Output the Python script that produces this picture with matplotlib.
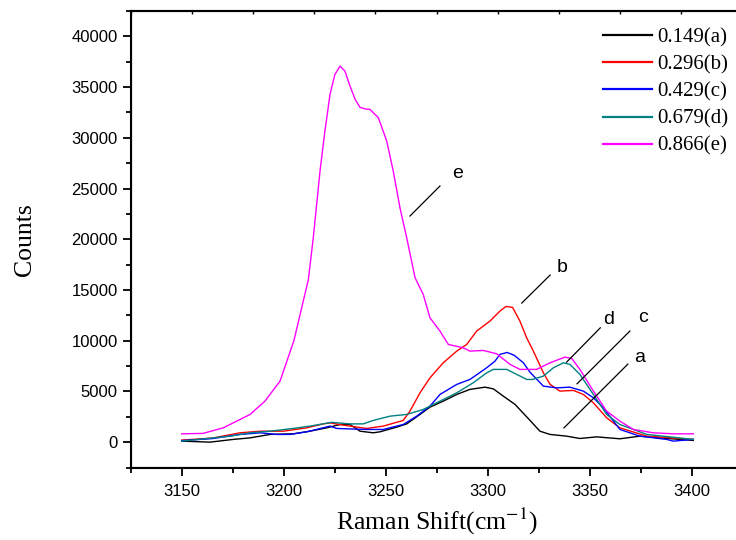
import matplotlib
matplotlib.use("Agg")
import matplotlib.pyplot as plt
import numpy as np

plt.rcParams['font.family'] = ['Liberation Sans', 'DejaVu Sans']
plt.rcParams['mathtext.fontset'] = 'stix'

# ---- data ----
a_x = [3150, 3163.9, 3175.3, 3183.5, 3193.3, 3204.7, 3212.9, 3221.1, 3227.6, 3232.5, 3237.4, 3243.9,
       3247.2, 3255.4, 3260.3, 3266.8, 3271.7, 3278.2, 3284.8, 3291.3, 3298.7, 3302.8, 3307.6, 3313.4,
       3320.7, 3325.6, 3330.5, 3338.7, 3345.2, 3353.4, 3364.8, 3374.6, 3384.5, 3400.8]
a_y = [100, 0, 270, 420, 760, 820, 1080, 1410, 1740, 1740, 1080, 920,
       1020, 1480, 1800, 2730, 3450, 4040, 4700, 5200, 5420, 5250, 4540, 3720,
       2150, 1080, 760, 590, 360, 520, 330, 590, 420, 170]

b_x = [3150, 3165, 3178.6, 3188.4, 3199.8, 3211.3, 3219.4, 3222.7, 3227.2, 3232.5, 3240.7, 3248.8,
       3258.6, 3261.9, 3266.8, 3271.7, 3278.2, 3284.8, 3289.7, 3294.6, 3301.1, 3306.0, 3309.0,
       3312.2, 3315.8, 3319.1, 3322.4, 3327.3, 3330.6, 3335.4, 3342.0, 3346.9, 3351.8, 3358.3,
       3364.8, 3378.0, 3400.8]
b_y = [200, 400, 920, 1080, 1080, 1410, 1800, 1900, 1740, 1580, 1350, 1580,
       2140, 3060, 4860, 6340, 7820, 8970, 9630, 10950, 11930, 12920, 13380,
       13280, 11930, 10280, 8970, 6830, 5690, 5030, 5100, 4700, 3880, 2400,
       1410, 590, 270]

c_x = [3150, 3165, 3178.6, 3188.4, 3196.6, 3203.1, 3211.3, 3222.7, 3226.0, 3232.5, 3240.7, 3248.8,
       3258.6, 3265.2, 3271.7, 3276.6, 3284.8, 3291.3, 3299.5, 3303.6, 3306.0, 3309.5, 3313.0,
       3317.5, 3320.7, 3327.3, 3333.8, 3340.3, 3346.9, 3351.8, 3356.7, 3364.8, 3374.6, 3387.7,
       3391.0, 3400.8]
c_y = [150, 350, 760, 920, 760, 760, 1020, 1580, 1350, 1300, 1250, 1250,
       1740, 2560, 3550, 4700, 5690, 6180, 7330, 7990, 8650, 8840, 8560,
       7820, 6900, 5520, 5350, 5420, 5030, 4370, 3380, 1250, 590, 270,
       100, 270]

d_x = [3150, 3173.7, 3183.5, 3193.3, 3204.7, 3212.9, 3223.5, 3232.5, 3239.0, 3243.9, 3252.1, 3260.3,
       3268.4, 3276.6, 3284.8, 3292.9, 3299.5, 3302.7, 3309.3, 3314.2, 3319.1, 3322.0, 3327.3,
       3332.2, 3337.1, 3340.3, 3345.2, 3351.8, 3358.3, 3364.8, 3378.0, 3400.8]
d_y = [100, 590, 920, 1080, 1350, 1580, 1950, 1800, 1800, 2140, 2560, 2730,
       3220, 4040, 4860, 5850, 6830, 7170, 7170, 6680, 6180, 6180, 6510,
       7330, 7820, 7660, 6680, 4700, 2730, 1740, 760, 270]

e_x = [3150, 3160.4, 3170.4, 3183.5, 3190.8, 3198.2, 3205, 3212.1, 3214.5, 3217.8, 3220.2, 3222.7,
       3225.1, 3227.6, 3230.0, 3232.5, 3235.0, 3237.4, 3240.0, 3242.3, 3246.4, 3250.5, 3253.7,
       3257.0, 3260.3, 3264.4, 3268.4, 3271.7, 3276.6, 3280.7, 3288.0, 3291.3, 3297.8, 3304.4,
       3311.0, 3315.8, 3320.7, 3324.0, 3330.5, 3337.9, 3341.2, 3345.2, 3351.8, 3358.3, 3364.8,
       3371.4, 3381.2, 3391.0, 3400.8]
e_y = [820, 860, 1410, 2730, 4040, 6015, 10000, 16040, 20140, 26720, 30660, 34280,
       36250, 37070, 36580, 35100, 33800, 33000, 32850, 32800, 31980, 29680, 26720,
       23100, 20140, 16200, 14560, 12260, 10950, 9630, 9300, 8970, 9040, 8710,
       7660, 7170, 7170, 7170, 7820, 8380, 8250, 7170, 5030, 3060, 2070,
       1250, 920, 820, 820]

series_labels = ['0.149(a)', '0.296(b)', '0.429(c)', '0.679(d)', '0.866(e)']
series_colors = ['#000000', '#FF0000', '#0000FF', '#008080', '#FF00FF']
series_x = [a_x, b_x, c_x, d_x, e_x]
series_y = [a_y, b_y, c_y, d_y, e_y]

# annotations: label, text pos, line start, line end
ann_labels = ['e', 'b', 'd', 'c', 'a']
ann_text = [(3285, 26530), (3336.3, 17190), (3359.5, 12130), (3376.1, 12260), (3374.7, 8380)]
ann_from = [(3261.9, 22290), (3316.7, 13710), (3338.7, 7890), (3343.8, 5750), (3337.4, 1410)]
ann_to = [(3276.6, 25250), (3330.6, 16470), (3355.2, 11270), (3369.7, 10950), (3368.7, 7690)]

x_ticks = [3150, 3200, 3250, 3300, 3350, 3400]
y_ticks = [0, 5000, 10000, 15000, 20000, 25000, 30000, 35000, 40000]

W, H = 736, 540
fig = plt.figure(figsize=(W / 100, H / 100), dpi=100)
left, right, bottom, top = 130.7, 742.7, 467.5, 11.0
ax = fig.add_axes([left / W, 1 - bottom / H, (right - left) / W, (bottom - top) / H])

for xs, ys, c, lab in zip(series_x, series_y, series_colors, series_labels):
    ax.plot(xs, ys, color=c, lw=1.0, label=lab)

ax.set_xlim(3125, 3425)
ax.set_ylim(-2500, 42500)
ax.set_xticks(x_ticks)
ax.set_xticks(np.arange(3125, 3426, 25), minor=True)
ax.set_yticks(y_ticks)
ax.set_yticks(np.arange(-2500, 42501, 5000), minor=True)
ax.tick_params(axis='both', which='major', direction='out', length=6, width=1.3, labelsize=12)
ax.tick_params(axis='both', which='minor', direction='out', length=3.5, width=1.3)
ax.tick_params(axis='x', pad=6)
for s in ['left', 'bottom', 'top']:
    ax.spines[s].set_linewidth(1.5)
ax.spines['right'].set_visible(False)

# top axis ticks
axt = ax.twiny()
axt.set_xlim(3125, 3425)
axt.set_xticks(np.arange(3125, 3426, 30))
axt.tick_params(axis='x', direction='in', length=2.5, width=1.0, labeltop=False)
axt.spines['right'].set_visible(False)
axt.spines['top'].set_linewidth(1.5)

ax.set_xlabel('Raman Shift(cm$^{-1}$)', fontsize=18.5, family='Liberation Serif', labelpad=5)
ax.set_ylabel('Counts', fontsize=18.5, family='Liberation Serif', labelpad=25)

for lab, tp, p0, p1 in zip(ann_labels, ann_text, ann_from, ann_to):
    ax.plot([p0[0], p1[0]], [p0[1], p1[1]], color='black', lw=0.9)
    ax.text(tp[0], tp[1], lab, fontsize=14, ha='center', va='center')

leg = ax.legend(loc='upper left', bbox_to_anchor=(603 / W, 1 - 28 / H), bbox_transform=fig.transFigure,
                frameon=False, borderpad=0, borderaxespad=0, handlelength=2.35, handletextpad=0.25,
                labelspacing=0.36, prop={'family': 'Liberation Serif', 'size': 15})
for h in leg.get_lines():
    h.set_linewidth(1.6)

fig.savefig('out.png', dpi=100)
